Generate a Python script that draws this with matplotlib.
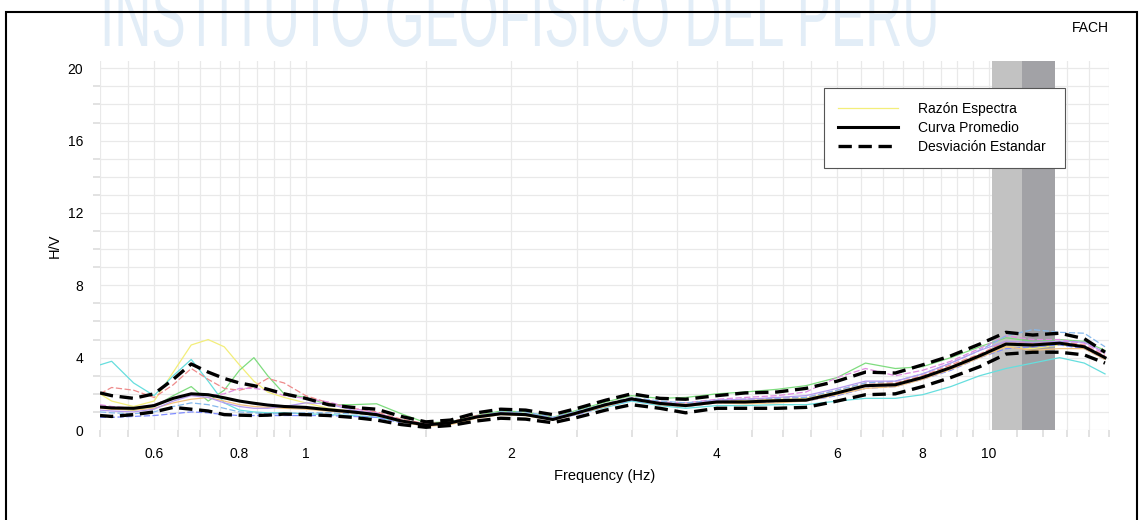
import numpy as np
import matplotlib
matplotlib.use("Agg")
import matplotlib.pyplot as plt
from matplotlib.ticker import FixedLocator, NullFormatter
from matplotlib.patches import Rectangle
from matplotlib.patheffects import AbstractPathEffect
from matplotlib.transforms import Affine2D

plt.rcParams['font.family'] = ['Liberation Sans', 'DejaVu Sans']

# frequency samples (Hz)
freq = [0.50, 0.52, 0.56, 0.60, 0.64, 0.68, 0.72, 0.76, 0.80, 0.84, 0.88, 0.93,
        1.00, 1.08, 1.17, 1.27, 1.38, 1.50, 1.63, 1.78, 1.93, 2.10, 2.30, 2.50,
        2.75, 3.00, 3.30, 3.60, 4.00, 4.40, 4.90, 5.40, 6.00, 6.60, 7.30, 8.00,
        8.80, 9.70, 10.6, 11.6, 12.7, 13.8, 14.8]

# mean H/V and +/- one standard deviation
hv_mean = [1.27, 1.22, 1.20, 1.35, 1.75, 2.00, 1.95, 1.78, 1.60, 1.48, 1.38, 1.30,
           1.25, 1.12, 1.00, 0.85, 0.50, 0.28, 0.40, 0.72, 0.90, 0.85, 0.58, 0.95,
           1.40, 1.72, 1.47, 1.35, 1.55, 1.55, 1.62, 1.65, 2.05, 2.45, 2.50, 2.90,
           3.45, 4.10, 4.75, 4.70, 4.80, 4.60, 4.00]
hv_upper = [2.05, 1.90, 1.75, 2.00, 2.80, 3.65, 3.20, 2.85, 2.60, 2.45, 2.25, 2.00,
            1.75, 1.40, 1.25, 1.15, 0.75, 0.45, 0.55, 0.95, 1.15, 1.10, 0.85, 1.20,
            1.65, 2.00, 1.75, 1.70, 1.90, 2.05, 2.10, 2.30, 2.70, 3.20, 3.15, 3.60,
            4.10, 4.75, 5.40, 5.25, 5.35, 5.05, 4.30]
hv_lower = [0.80, 0.75, 0.85, 1.00, 1.25, 1.15, 1.05, 0.85, 0.82, 0.80, 0.82, 0.88,
            0.85, 0.80, 0.70, 0.55, 0.30, 0.15, 0.25, 0.50, 0.65, 0.60, 0.40, 0.70,
            1.10, 1.40, 1.20, 0.95, 1.20, 1.20, 1.20, 1.25, 1.60, 1.95, 2.00, 2.40,
            2.90, 3.50, 4.20, 4.30, 4.30, 4.15, 3.70]

# individual spectral ratios
hv_yellow = [2.0, 1.6, 1.3, 1.6, 3.2, 4.7, 5.0, 4.6, 3.6, 2.7, 2.1, 1.8,
             1.5, 1.2, 1.05, 0.9, 0.55, 0.3, 0.4, 0.7, 0.9, 0.8, 0.6, 0.95,
             1.4, 1.75, 1.5, 1.45, 1.6, 1.65, 1.7, 1.75, 2.1, 2.5, 2.55, 2.95,
             3.5, 4.15, 4.6, 4.5, 4.7, 4.6, 4.0]
hv_cyan = [3.6, 3.8, 2.6, 1.9, 3.0, 3.9, 2.7, 1.5, 1.1, 1.0, 0.95, 0.95,
           0.9, 0.85, 0.8, 0.7, 0.45, 0.25, 0.35, 0.7, 0.95, 0.9, 0.65, 0.9,
           1.25, 1.6, 1.35, 1.2, 1.35, 1.35, 1.4, 1.4, 1.6, 1.75, 1.75, 1.95,
           2.4, 3.0, 3.4, 3.7, 4.0, 3.7, 3.1]
hv_green = [1.3, 1.2, 1.1, 1.3, 1.9, 2.4, 1.6, 2.2, 3.3, 4.0, 3.0, 2.0,
            1.8, 1.4, 1.4, 1.45, 0.9, 0.4, 0.45, 0.8, 1.05, 1.0, 0.7, 1.1,
            1.55, 1.9, 1.75, 1.8, 2.0, 2.1, 2.25, 2.45, 2.9, 3.7, 3.4, 3.5,
            4.0, 4.6, 5.1, 4.9, 5.0, 4.9, 4.4]
hv_red = [2.0, 2.35, 2.2, 1.8, 2.5, 3.4, 2.8, 2.3, 2.2, 2.4, 2.85, 2.6,
          1.9, 1.5, 1.2, 1.0, 0.6, 0.35, 0.45, 0.8, 0.95, 0.85, 0.6, 1.0,
          1.45, 1.8, 1.5, 1.4, 1.6, 1.7, 1.75, 1.8, 2.2, 2.6, 2.6, 3.0,
          3.6, 4.2, 4.9, 4.8, 4.9, 4.7, 4.1]
hv_magenta = [1.4, 1.3, 1.2, 1.4, 1.8, 2.0, 1.9, 2.0, 2.3, 2.3, 2.2, 1.9,
              1.75, 1.55, 1.2, 0.95, 0.55, 0.3, 0.4, 0.75, 0.9, 0.85, 0.6, 0.95,
              1.35, 1.75, 1.55, 1.5, 1.7, 1.8, 1.9, 2.1, 2.9, 3.4, 3.0, 3.3,
              3.8, 4.5, 5.2, 5.0, 5.0, 4.8, 4.2]
hv_blue = [0.7, 0.7, 0.75, 0.8, 0.9, 1.0, 0.95, 0.85, 0.8, 0.8, 0.8, 0.8,
           0.8, 0.8, 0.75, 0.7, 0.4, 0.25, 0.35, 0.7, 0.9, 0.85, 0.6, 0.85,
           1.3, 1.65, 1.4, 1.3, 1.5, 1.5, 1.55, 1.6, 1.9, 2.3, 2.4, 2.8,
           3.3, 4.0, 4.5, 4.6, 4.7, 4.5, 3.9]
hv_lightblue = [1.0, 0.95, 0.9, 1.0, 1.3, 1.5, 1.4, 1.2, 1.0, 0.95, 0.9, 0.9,
                0.95, 0.95, 0.9, 0.8, 0.5, 0.3, 0.4, 0.75, 1.0, 1.0, 0.7, 1.05,
                1.45, 1.8, 1.6, 1.5, 1.65, 1.7, 1.75, 1.8, 2.2, 2.6, 2.7, 3.1,
                3.7, 4.4, 5.2, 5.55, 5.4, 5.35, 4.6]
hv_orange = [1.2, 1.15, 1.1, 1.2, 1.5, 1.7, 1.8, 1.6, 1.4, 1.3, 1.25, 1.2,
             1.15, 1.05, 0.95, 0.8, 0.45, 0.2, 0.3, 0.65, 0.85, 0.8, 0.55, 0.9,
             1.3, 1.7, 1.4, 1.3, 1.5, 1.45, 1.5, 1.6, 1.95, 2.3, 2.4, 2.8,
             3.35, 4.0, 4.6, 4.4, 4.5, 4.5, 3.9]
hv_violet = [1.1, 1.05, 1.0, 1.15, 1.6, 1.9, 1.8, 1.5, 1.3, 1.2, 1.2, 1.3,
             1.5, 1.45, 1.1, 0.9, 0.5, 0.3, 0.4, 0.75, 0.95, 0.9, 0.65, 1.0,
             1.4, 1.75, 1.5, 1.4, 1.65, 1.7, 1.8, 1.9, 2.3, 2.7, 2.7, 3.1,
             3.7, 4.4, 4.9, 4.85, 4.9, 4.85, 4.3]

xtick_vals = [0.6, 0.8, 1, 2, 4, 6, 8, 10]
xtick_labels = ['0.6', '0.8', '1', '2', '4', '6', '8', '10']
ytick_vals = [0, 4, 8, 12, 16, 20]

# (curve, colour, dashed?)
ratios = [
    (hv_yellow, '#f3ee7a', False),
    (hv_cyan, '#66dede', False),
    (hv_green, '#7edc7e', False),
    (hv_red, '#ee8a8a', True),
    (hv_magenta, '#e08ae0', True),
    (hv_blue, '#7f8cff', True),
    (hv_lightblue, '#86b8ec', True),
    (hv_orange, '#f4c27e', False),
    (hv_violet, '#b59af0', False),
]


class VStretch(AbstractPathEffect):
    """Stretch glyphs vertically about a baseline (pixel units)."""
    def __init__(self, sy, y0):
        super().__init__()
        self.sy = sy
        self.y0 = y0

    def draw_path(self, renderer, gc, tpath, affine, rgbFace=None):
        stretch = Affine2D().translate(0, -self.y0).scale(1, self.sy).translate(0, self.y0)
        renderer.draw_path(gc, tpath, affine + stretch, rgbFace)


W, H = 1140, 520
fig = plt.figure(figsize=(W / 100, H / 100), dpi=100)

# faded watermark (tall lettering, cut by the top edge of the scan)
wm_base = H - 46
fig.text(100 / W, wm_base / H, 'INSTITUTO GEOFISICO DEL PERU', fontsize=37,
         color='#e2edf7', ha='left', va='baseline', zorder=0,
         path_effects=[VStretch(1.75, wm_base)])

fig.add_artist(Rectangle((0.005, -0.02), 0.992, 1.0 - 12 / H + 0.02,
                         transform=fig.transFigure, fill=False,
                         edgecolor='black', lw=1.5, zorder=1))
fig.text(1109 / W, 1 - 28 / H, 'FACH', fontsize=10, ha='right', va='center')

ax = fig.add_axes([100 / W, 1 - 430 / H, 1009 / W, 369 / H])

ax.axvspan(10.1, 11.2, color='#c2c2c2', lw=0, zorder=2)
ax.axvspan(11.2, 12.5, color='#a2a2a6', lw=0, zorder=2)

for i, (vals, col, dashed) in enumerate(ratios):
    ls = (0, (5, 2)) if dashed else '-'
    ax.plot(freq, vals, color=col, lw=0.9, ls=ls, zorder=3,
            label='Razón Espectra' if i == 0 else None)

ax.plot(freq, hv_mean, color='black', lw=2.2, zorder=5, label='Curva Promedio')
ax.plot(freq, hv_upper, color='black', lw=2.4, ls=(0, (4, 2)), zorder=5,
        label='Desviación Estandar')
ax.plot(freq, hv_lower, color='black', lw=2.4, ls=(0, (4, 2)), zorder=5)

ax.set_xscale('log')
ax.set_xlim(0.5, 15)
ax.set_ylim(0, 20.4)

ax.set_xticks(xtick_vals)
ax.set_xticklabels(xtick_labels)
xminor = list(np.arange(0.5, 1.001, 0.05)) + list(np.arange(1.5, 10.01, 0.5)) + [11, 12, 13, 14, 15]
ax.xaxis.set_minor_locator(FixedLocator(xminor))
ax.xaxis.set_minor_formatter(NullFormatter())
ax.set_yticks(ytick_vals)
ax.yaxis.set_minor_locator(FixedLocator(list(range(0, 21))))

ax.tick_params(which='major', length=0, pad=12, labelsize=10)
ax.tick_params(which='minor', length=5, width=1.2, color='#dddddd')
ax.grid(which='both', color='#e9e9e9', lw=0.9, zorder=0)
ax.set_axisbelow(True)
for s in ax.spines.values():
    s.set_visible(False)

# a few darker minor tick marks as seen in the print
dark_x = [0.65, 0.7, 0.9, 0.95, 3.5, 4.5, 7.0, 7.5, 9.0, 9.5]
for loc, tk in zip(ax.xaxis.get_minorticklocs(), ax.xaxis.get_minor_ticks()):
    if any(abs(loc - d) < 1e-6 for d in dark_x):
        tk.tick1line.set_color('black')
dark_y = [3, 10, 11, 18, 19]
for loc, tk in zip(ax.yaxis.get_minorticklocs(), ax.yaxis.get_minor_ticks()):
    if loc in dark_y:
        tk.tick1line.set_color('black')

ax.set_xlabel('Frequency (Hz)', fontsize=10.5, labelpad=6)
ax.set_ylabel('H/V', fontsize=10.5, labelpad=4)

leg = ax.legend(loc='upper left', bbox_to_anchor=(0.7175, 0.9268 - 0.2358, 0.2388, 0.2358),
                mode='expand', fontsize=10, handlelength=4.3, handletextpad=1.5,
                labelspacing=0.35, borderpad=1.0, fancybox=False, framealpha=1,
                borderaxespad=0)
leg.get_frame().set_edgecolor('#555555')
leg.get_frame().set_linewidth(0.8)
leg.set_zorder(10)

fig.savefig('out.png', dpi=100)
